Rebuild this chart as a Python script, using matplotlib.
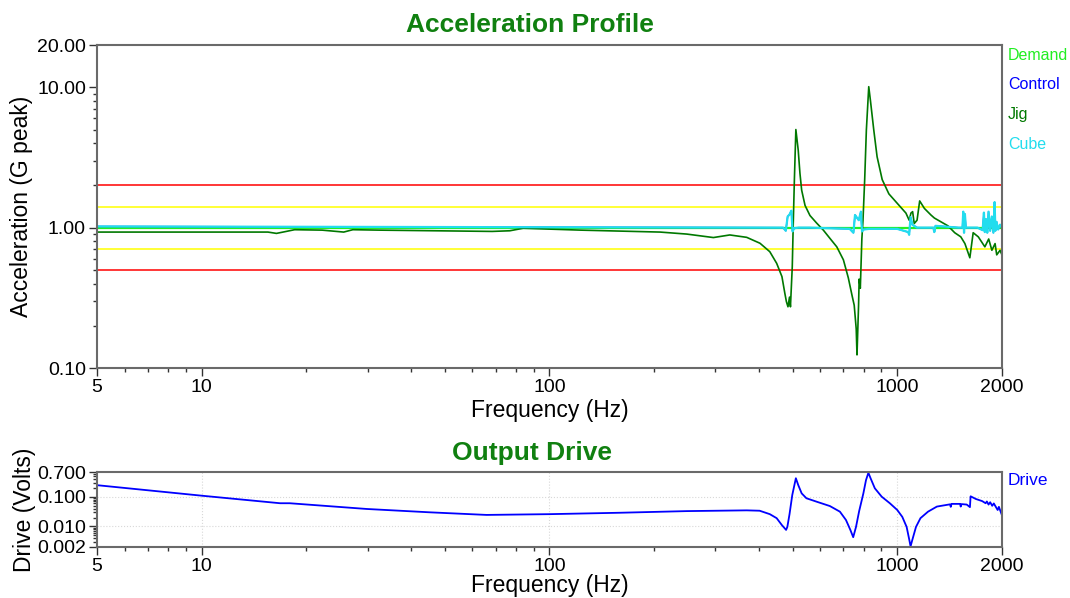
import numpy as np
import matplotlib
matplotlib.use("Agg")
from matplotlib import pyplot as plt
from matplotlib.ticker import LogLocator, FixedLocator, FixedFormatter, NullFormatter

plt.rcParams['font.family'] = ['Liberation Sans', 'DejaVu Sans']

# --- data ---
jig_f = [5, 15.5, 16.4, 17.5, 18.5, 22.2, 25.6, 27.2, 32.4, 68.4, 76.9, 84, 123, 208, 248, 296, 330,
         369, 403, 430, 450, 466, 475, 480, 485, 490, 493, 499, 502, 506, 511, 519, 525, 531, 543,
         561, 586, 613, 640, 670, 700, 723, 741, 752, 762, 766, 774, 777, 783, 791, 797, 806, 815,
         828, 837, 856, 875, 905, 946, 1000, 1059, 1082, 1095, 1107, 1119, 1140, 1160, 1197, 1250,
         1279, 1399, 1463, 1523, 1565, 1617, 1653, 1710, 1786, 1832, 1871, 1911, 1932, 1975, 2000]
jig_v = [0.93, 0.93, 0.91, 0.94, 0.967, 0.96, 0.93, 0.967, 0.96, 0.94, 0.95, 0.99, 0.96, 0.93, 0.90,
         0.85, 0.887, 0.853, 0.774, 0.674, 0.557, 0.448, 0.341, 0.297, 0.273, 0.32, 0.273, 0.527,
         1.016, 2.18, 5.0, 3.57, 2.44, 1.85, 1.44, 1.22, 1.08, 0.96, 0.84, 0.73, 0.59, 0.44, 0.33,
         0.28, 0.19, 0.124, 0.28, 0.43, 0.37, 0.83, 1.13, 2.2, 4.96, 10.1, 8.1, 4.96, 3.2, 2.2, 1.74,
         1.49, 1.27, 1.13, 1.27, 1.30, 1.07, 1.13, 1.55, 1.37, 1.23, 1.17, 1.03, 0.92, 0.86, 0.77,
         0.61, 0.92, 0.86, 0.73, 0.83, 0.69, 0.77, 0.64, 0.69, 0.64]

cube_f = [5, 470, 478, 484, 490, 496, 500, 505, 520, 560, 730, 748, 756, 765, 775, 786, 792, 800,
          830, 1000, 1075, 1082, 1092, 1105, 1140, 1270, 1278, 1288, 1500, 1540, 1548, 1556, 1565,
          1575, 1700, 1760, 1775, 1785, 1800, 1815, 1830, 1850, 1870, 1890, 1905, 1915, 1930, 1950,
          1975, 2000]
cube_v = [1.02, 1.0, 0.95, 1.2, 1.24, 1.32, 0.94, 0.99, 1.0, 1.0, 0.98, 0.92, 1.23, 1.18, 1.13,
          1.30, 0.94, 0.97, 0.98, 0.98, 0.93, 0.89, 1.19, 1.05, 1.0, 1.0, 0.93, 1.03, 1.0, 1.0, 1.30,
          0.92, 1.25, 1.0, 1.0, 0.96, 1.28, 0.93, 1.15, 0.92, 1.3, 0.95, 1.2, 0.92, 1.52, 0.95, 1.1,
          0.97, 1.05, 1.0]

ctrl_f = cube_f
ctrl_v = cube_v

demand_f = [5, 2000]
demand_v = [1.0, 1.0]
abort_v = [2.0, 0.5]
alarm_v = [1.41, 0.71]

drive_f = [5, 10, 16.8, 17.9, 29.8, 45.3, 65.9, 100, 159, 248, 369, 402, 430, 450, 466, 479, 483,
           490, 499, 511, 519, 531, 548, 586, 640, 684, 712, 733, 747, 761, 777, 799, 813, 826, 838,
           862, 902, 952, 1000, 1034, 1064, 1083, 1092, 1105, 1132, 1166, 1226, 1300, 1418, 1425,
           1432, 1516, 1522, 1530, 1584, 1618, 1625, 1683, 1755, 1795, 1810, 1830, 1850, 1875,
           1895, 1944, 1960, 2000]
drive_v = [0.25, 0.110, 0.061, 0.061, 0.039, 0.030, 0.0245, 0.026, 0.029, 0.033, 0.035, 0.034,
           0.026, 0.019, 0.011, 0.0076, 0.0096, 0.026, 0.116, 0.43, 0.254, 0.132, 0.090, 0.069,
           0.049, 0.0316, 0.0165, 0.0076, 0.0043, 0.0096, 0.033, 0.132, 0.37, 0.66, 0.43, 0.196,
           0.102, 0.061, 0.036, 0.021, 0.0096, 0.0035, 0.0021, 0.0035, 0.0096, 0.019, 0.0316, 0.047,
           0.056, 0.046, 0.058, 0.058, 0.047, 0.057, 0.055, 0.045, 0.105, 0.085, 0.072, 0.061, 0.07,
           0.055, 0.066, 0.05, 0.06, 0.036, 0.046, 0.024]

title_green = '#108010'
spine_grey = '#6a6a6a'

fig = plt.figure(figsize=(10.7, 5.98), dpi=100)
ax = fig.add_axes([0.0907, 0.3846, 0.8457, 0.5401])
ax2 = fig.add_axes([0.0907, 0.0853, 0.8457, 0.1254])

# --- top: acceleration profile ---
for v in abort_v:
    ax.plot(demand_f, [v, v], color='#ff0000', lw=1.1)
for v in alarm_v:
    ax.plot(demand_f, [v, v], color='#ffff00', lw=1.1)
ax.plot(demand_f, demand_v, color='#22ee22', lw=1.6)
ax.plot(ctrl_f, ctrl_v, color='#0000ff', lw=1.0)
ax.plot(jig_f, jig_v, color='#007800', lw=1.2)
ax.plot(cube_f, cube_v, color='#22ddee', lw=1.6)

ax.set_xscale('log')
ax.set_yscale('log')
ax.set_xlim(5, 2000)
ax.set_ylim(0.1, 20)
ax.xaxis.set_major_locator(FixedLocator([5, 10, 100, 1000, 2000]))
ax.xaxis.set_major_formatter(FixedFormatter(['5', '10', '100', '1000', '2000']))
ax.xaxis.set_minor_locator(LogLocator(base=10, subs=np.arange(2, 10)))
ax.xaxis.set_minor_formatter(NullFormatter())
ax.yaxis.set_major_locator(FixedLocator([0.1, 1, 10, 20]))
ax.yaxis.set_major_formatter(FixedFormatter(['0.10', '1.00', '10.00', '20.00']))
ax.yaxis.set_minor_locator(LogLocator(base=10, subs=np.arange(2, 10)))
ax.yaxis.set_minor_formatter(NullFormatter())
ax.set_xlabel('Frequency (Hz)', fontsize=16.5, labelpad=2)
ax.set_ylabel('Acceleration (G peak)', fontsize=16.5, labelpad=3)

# --- bottom: output drive ---
ax2.plot(drive_f, drive_v, color='#0000ff', lw=1.3)
ax2.set_xscale('log')
ax2.set_yscale('log')
ax2.set_xlim(5, 2000)
ax2.set_ylim(0.002, 0.7)
ax2.xaxis.set_major_locator(FixedLocator([5, 10, 100, 1000, 2000]))
ax2.xaxis.set_major_formatter(FixedFormatter(['5', '10', '100', '1000', '2000']))
ax2.xaxis.set_minor_locator(LogLocator(base=10, subs=np.arange(2, 10)))
ax2.xaxis.set_minor_formatter(NullFormatter())
ax2.yaxis.set_major_locator(FixedLocator([0.002, 0.01, 0.1, 0.7]))
ax2.yaxis.set_major_formatter(FixedFormatter(['0.002', '0.010', '0.100', '0.700']))
ax2.yaxis.set_minor_locator(LogLocator(base=10, subs=np.arange(2, 10)))
ax2.yaxis.set_minor_formatter(NullFormatter())
ax2.set_xlabel('Frequency (Hz)', fontsize=16.5, labelpad=-1)
ax2.set_ylabel('Drive (Volts)', fontsize=16.5, labelpad=1)
for g in [10, 100, 1000]:
    ax2.axvline(g, color='#d8d8d8', lw=0.8, ls=':', zorder=0)
for g in [0.01, 0.1]:
    ax2.axhline(g, color='#d8d8d8', lw=0.8, ls=':', zorder=0)

for a in (ax, ax2):
    for s in a.spines.values():
        s.set_color(spine_grey)
        s.set_linewidth(1.5)
    a.tick_params(which='major', length=6, width=1, color='#333333', labelsize=14, pad=2)
    a.tick_params(which='minor', length=3, width=1, color='#333333')

fig.text(0.495, 0.958, 'Acceleration Profile', ha='center', va='center',
         fontsize=19, fontweight='bold', color=title_green)
fig.text(0.497, 0.2425, 'Output Drive', ha='center', va='center',
         fontsize=19, fontweight='bold', color=title_green)

legend_names = ['Demand', 'Control', 'Jig', 'Cube']
legend_cols = ['#22ee22', '#0000ff', '#007800', '#22ddee']
for i, (n, c) in enumerate(zip(legend_names, legend_cols)):
    fig.text(0.942, 0.908 - i * 0.05, n, color=c, fontsize=11.5, va='center')
fig.text(0.942, 0.196, 'Drive', color='#0000ff', fontsize=12.5, va='center')

fig.savefig('out.png', dpi=100)
